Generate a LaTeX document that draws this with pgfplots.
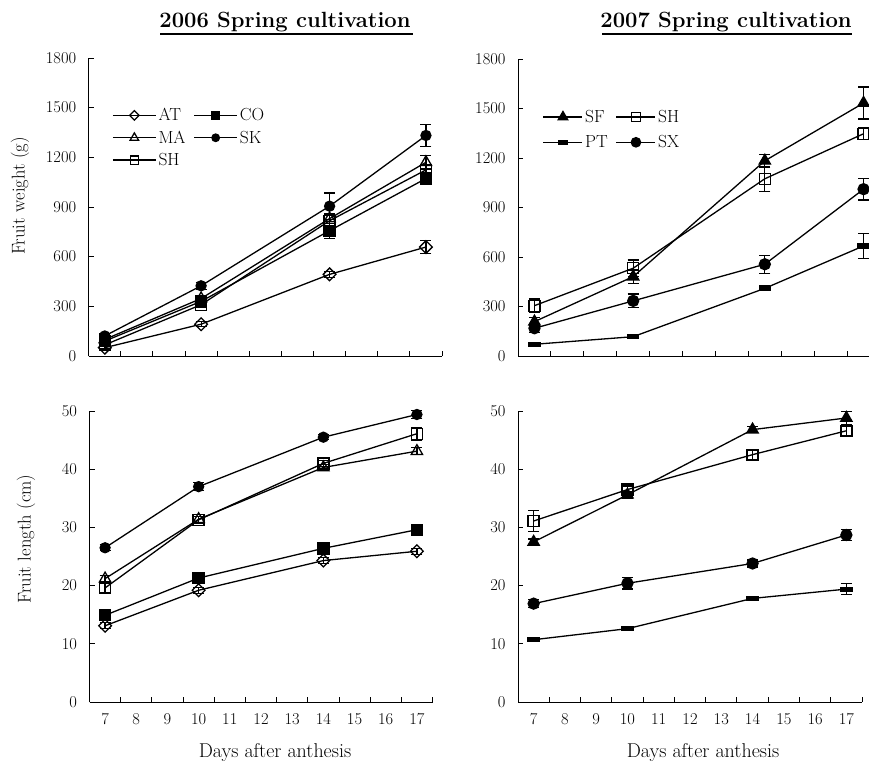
\documentclass[border=0pt]{standalone}
\usepackage{pgfplots}
\pgfplotsset{compat=1.18}
\begin{document}
\begin{tikzpicture}
\pgfplotsset{
  base/.style={
    scale only axis, axis lines*=left, tick align=inside,
    xmin=6.5, xmax=17.5,
    xtick={6.5,7.5,...,17.5}, xticklabels={},
    major tick length=5pt,
    tick style={black, line width=0.9pt},
    axis line style={line width=0.9pt},
    clip=false,
    /pgf/number format/assume math mode=true,
    /pgf/number format/1000 sep={},
    tick label style={font=\fontsize{16.5}{19}\selectfont},
    yticklabel style={xshift=-9pt},
    every axis plot/.append style={line width=1.3pt, black},
    error bars/y dir=both, error bars/y explicit,
    error bars/error mark options={rotate=90, mark size=5.5pt, line width=1.2pt, black},
    error bars/error bar style={line width=1.2pt, black},
  },
  lab/.style={extra x ticks={7,...,17}, extra x tick labels={7,8,9,10,11,12,13,14,15,16,17},
    extra x tick style={major tick length=0pt, xticklabel style={yshift=-8pt}}},
  pAT/.style={black, line width=1.3pt, mark=square, mark size=4.5pt, mark options={rotate=45, fill=white, solid}},
  pCO/.style={black, line width=1.3pt, mark=square*, mark size=5.5pt, mark options={fill=black, solid}},
  pMA/.style={black, line width=1.3pt, mark=triangle, mark size=6.5pt, mark options={fill=white, solid}},
  pSK/.style={black, line width=1.3pt, mark=*, mark size=5pt, mark options={fill=black, solid}},
  pSH/.style={black, line width=1.3pt, mark=square, mark size=5.5pt, mark options={fill=white, solid}},
  pSF/.style={black, line width=1.3pt, mark=triangle*, mark size=6.5pt, mark options={fill=black, solid}},
  pPT/.style={black, line width=1.3pt, mark=square*, mark size=5.5pt, mark options={yscale=0.35, fill=black, solid}},
  pSX/.style={black, line width=1.3pt, mark=*, mark size=5.5pt, mark options={fill=black, solid}},
}
% ---------- top left
\begin{axis}[base, at={(88.7pt,406pt)}, anchor=south west, width=353.3pt, height=298pt,
  ymin=0, ymax=1800, ytick={0,300,...,1800},
  legend columns=2,
  legend image code/.code={\draw[mark repeat=2,mark phase=2,/tikz/every mark/.append style={scale=0.75}] plot coordinates {(0pt,0pt) (21.5pt,0pt) (43pt,0pt)};},
  legend style={at={(0.066,0.838)}, anchor=north west, draw=none, fill=none, inner sep=0pt,
    font=\fontsize{17.5}{20}\selectfont, row sep=4.5pt, cells={anchor=west},
    /tikz/every even column/.append style={column sep=6pt}}]
\addplot[pAT] coordinates {(7,50)+-(0,8) (10,192)+-(0,15) (14,493)+-(0,18) (17,658)+-(0,40)};
\addlegendentry{AT}
\addplot[pCO] coordinates {(7,90)+-(0,10) (10,330)+-(0,15) (14,757)+-(0,45) (17,1072)+-(0,25)};
\addlegendentry{CO}
\addplot[pMA] coordinates {(7,100)+-(0,10) (10,347)+-(0,15) (14,830)+-(0,30) (17,1170)+-(0,40)};
\addlegendentry{MA}
\addplot[pSK] coordinates {(7,121)+-(0,12) (10,424)+-(0,20) (14,905)+-(0,80) (17,1332)+-(0,65)};
\addlegendentry{SK}
\addplot[pSH] coordinates {(7,67)+-(0,10) (10,310)+-(0,15) (14,817)+-(0,40) (17,1124)+-(0,30)};
\addlegendentry{SH}
\end{axis}
% ---------- top right
\begin{axis}[base, at={(518pt,406pt)}, anchor=south west, width=362pt, height=297pt,
  ymin=0, ymax=1800, ytick={0,300,...,1800},
  legend columns=2,
  legend image code/.code={\draw[mark repeat=2,mark phase=2,/tikz/every mark/.append style={scale=0.85}] plot coordinates {(0pt,0pt) (19.5pt,0pt) (39pt,0pt)};},
  legend style={at={(0.068,0.835)}, anchor=north west, draw=none, fill=none, inner sep=0pt,
    font=\fontsize{17.5}{20}\selectfont, row sep=7.5pt, cells={anchor=west},
    /tikz/every even column/.append style={column sep=6pt}}]
\addplot[pSF] coordinates {(7,208)+-(0,25) (10,481)+-(0,40) (14,1183)+-(0,37) (17,1533)+-(0,97)};
\addlegendentry{SF}
\addplot[pSH] coordinates {(7,305)+-(0,40) (10,532)+-(0,50) (14,1074)+-(0,75) (17,1347)+-(0,35)};
\addlegendentry{SH}
\addplot[pPT] coordinates {(7,71)+-(0,8) (10,117)+-(0,8) (14,410)+-(0,15) (17,667)+-(0,75)};
\addlegendentry{PT}
\addplot[pSX] coordinates {(7,168)+-(0,25) (10,334)+-(0,42) (14,556)+-(0,55) (17,1011)+-(0,65)};
\addlegendentry{SX}
\end{axis}
% ---------- bottom left
\begin{axis}[base, lab, at={(89.5pt,60pt)}, anchor=south west, width=343pt, height=291pt,
  ymin=0, ymax=50, ytick={0,10,...,50}]
\addplot[pAT] coordinates {(7,13.1)+-(0,0.5) (10,19.2)+-(0,0.5) (14,24.3)+-(0,0.5) (17,25.9)+-(0,0.5)};
\addplot[pCO] coordinates {(7,14.9)+-(0,0.6) (10,21.3)+-(0,0.6) (14,26.4)+-(0,0.6) (17,29.6)+-(0,0.6)};
\addplot[pMA] coordinates {(7,21.2)+-(0,0.6) (10,31.4)+-(0,0.5) (14,40.3)+-(0,0.5) (17,43.1)+-(0,0.6)};
\addplot[pSK] coordinates {(7,26.5)+-(0,0.5) (10,37.0)+-(0,0.7) (14,45.5)+-(0,0.4) (17,49.4)+-(0,0.7)};
\addplot[pSH] coordinates {(7,19.6)+-(0,0.8) (10,31.3)+-(0,0.6) (14,41.0)+-(0,0.5) (17,46.1)+-(0,1.1)};
\end{axis}
% ---------- bottom right
\begin{axis}[base, lab, at={(518pt,60pt)}, anchor=south west, width=344pt, height=291pt,
  ymin=0, ymax=50, ytick={0,10,...,50}]
\addplot[pSF] coordinates {(7,27.5)+-(0,0.5) (10,35.6)+-(0,0.6) (14,46.8)+-(0,0.5) (17,48.8)+-(0,1.1)};
\addplot[pSH] coordinates {(7,31.1)+-(0,1.8) (10,36.5)+-(0,0.6) (14,42.5)+-(0,0.8) (17,46.6)+-(0,0.8)};
\addplot[pPT] coordinates {(7,10.7)+-(0,0.2) (10,12.6)+-(0,0.2) (14,17.8)+-(0,0.3) (17,19.4)+-(0,0.9)};
\addplot[pSX] coordinates {(7,16.9)+-(0,0.7) (10,20.4)+-(0,1.0) (14,23.8)+-(0,0.6) (17,28.7)+-(0,0.9)};
\end{axis}
% ---------- titles and labels
\node[anchor=base, font=\fontsize{22}{25}\selectfont\bfseries] at (285pt,734pt) {2006 Spring cultivation};
\draw[line width=1.8pt] (160pt,728pt) -- (413pt,728pt);
\node[anchor=base, font=\fontsize{22}{25}\selectfont\bfseries] at (726pt,734pt) {2007 Spring cultivation};
\draw[line width=1.8pt] (602pt,728pt) -- (852pt,728pt);
\node[rotate=90, font=\fontsize{18.5}{21}\selectfont] at (20pt,566pt) {Fruit weight (g)};
\node[rotate=90, font=\fontsize{18.5}{21}\selectfont] at (26pt,223pt) {Fruit length (cm)};
\node[anchor=base, font=\fontsize{20}{23}\selectfont] at (275pt,5pt) {Days after anthesis};
\node[anchor=base, font=\fontsize{20}{23}\selectfont] at (703pt,5pt) {Days after anthesis};
\pgfresetboundingbox
\path (0pt,0pt) rectangle (869pt,762pt);
\end{tikzpicture}
\end{document}
